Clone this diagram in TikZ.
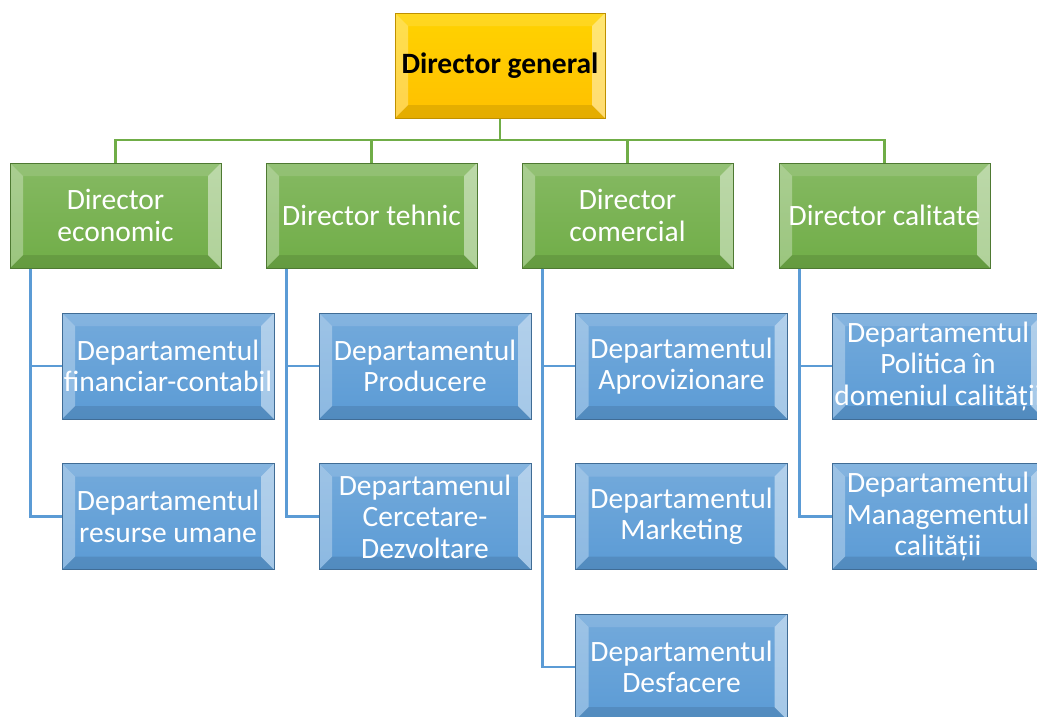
\documentclass[tikz,border=0pt]{standalone}
\usepackage{fontspec}
\setmainfont{Carlito}
\usetikzlibrary{positioning, calc}
\definecolor{xgold}{HTML}{FFC000}
\definecolor{xgreen}{HTML}{70AD47}
\definecolor{xblue}{HTML}{5B9BD5}
\tikzset{
	bevel/.style={path picture={
		\coordinate (o1) at (path picture bounding box.north west);
		\coordinate (o2) at (path picture bounding box.north east);
		\coordinate (o3) at (path picture bounding box.south east);
		\coordinate (o4) at (path picture bounding box.south west);
		\coordinate (i1) at ([shift={(13pt,-13pt)}]o1);
		\coordinate (i2) at ([shift={(-13pt,-13pt)}]o2);
		\coordinate (i3) at ([shift={(-13pt,13pt)}]o3);
		\coordinate (i4) at ([shift={(13pt,13pt)}]o4);
		\fill[white, opacity=0.12] (o1) -- (o2) -- (i2) -- (i1) -- cycle;
		\fill[white, opacity=0.45] (o2) -- (o3) -- (i3) -- (i2) -- cycle;
		\fill[black, opacity=0.10] (o3) -- (o4) -- (i4) -- (i3) -- cycle;
		\fill[white, opacity=0.30] (o4) -- (o1) -- (i1) -- (i4) -- cycle;
	}},
	box/.style={rectangle, bevel, inner sep=0pt, align=flush center, line width=1pt, font=\fontsize{29.5}{31.5}\selectfont},
	chief/.style={box, text width=210pt, minimum height=105pt, top color=xgold!70!yellow, bottom color=xgold, draw=xgold!75!black, text=black, font=\bfseries\fontsize{29.5}{31.5}\selectfont},
	director/.style={box, text width=211pt, minimum height=105pt, top color=xgreen!85!white, bottom color=xgreen, draw=xgreen!70!black, text=white},
	dept/.style={box, text width=212pt, minimum height=106pt, top color=xblue!85!white, bottom color=xblue, draw=xblue!70!black, text=white},
	gline/.style={draw=xgreen, line width=2.5pt},
	bline/.style={draw=xblue, line width=2.5pt},
}

\begin{document}
\begin{tikzpicture}[x=1pt, y=-1pt]
	\useasboundingbox (0,0) rectangle (1037,716);

	% Connectors from the director general
	\coordinate (bus) at (500,140);
	\node[chief] (dg) at (500,65.5) {Director general};

	\node[director] (de) at (115.5,215.5) {Director\\economic};
	\node[director] (dt) at (371.5,215.5) {Director tehnic};
	\node[director] (dc) at (627.5,215.5) {Director\\comercial};
	\node[director] (dq) at (884.5,215.5) {Director calitate};

	\draw[gline] (dg.south) -- (bus);
	\draw[gline] (bus) -| (de.north);
	\draw[gline] (bus) -| (dt.north);
	\draw[gline] (bus) -| (dc.north);
	\draw[gline] (bus) -| (dq.north);

	% Director economic
	\node[dept] (fc) at (168,366) {Departamentul\\financiar-contabil};
	\node[dept] (ru) at (168,516.5) {Departamentul\\resurse umane};
	\draw[bline] ([xshift=21pt]de.south west) |- (fc.west);
	\draw[bline] ([xshift=21pt]de.south west) |- (ru.west);

	% Director tehnic
	\node[dept] (pr) at (425,366) {Departamentul\\Producere};
	\node[dept] (cd) at (425,516.5) {Departamenul\\Cercetare-\\Dezvoltare};
	\draw[bline] ([xshift=21pt]dt.south west) |- (pr.west);
	\draw[bline] ([xshift=21pt]dt.south west) |- (cd.west);

	% Director comercial
	\node[dept] (ap) at (681.5,366) {Departamentul\\Aprovizionare};
	\node[dept] (mk) at (681.5,516.5) {Departamentul\\Marketing};
	\node[dept] (ds) at (681.5,667) {Departamentul\\Desfacere};
	\draw[bline] ([xshift=21pt]dc.south west) |- (ap.west);
	\draw[bline] ([xshift=21pt]dc.south west) |- (mk.west);
	\draw[bline] ([xshift=21pt]dc.south west) |- (ds.west);

	% Director calitate
	\node[dept] (pc) at (938,366) {Departamentul\\Politica în\\domeniul calității};
	\node[dept] (mc) at (938,516.5) {Departamentul\\Managementul\\calității};
	\draw[bline] ([xshift=21pt]dq.south west) |- (pc.west);
	\draw[bline] ([xshift=21pt]dq.south west) |- (mc.west);
\end{tikzpicture}
\end{document}
